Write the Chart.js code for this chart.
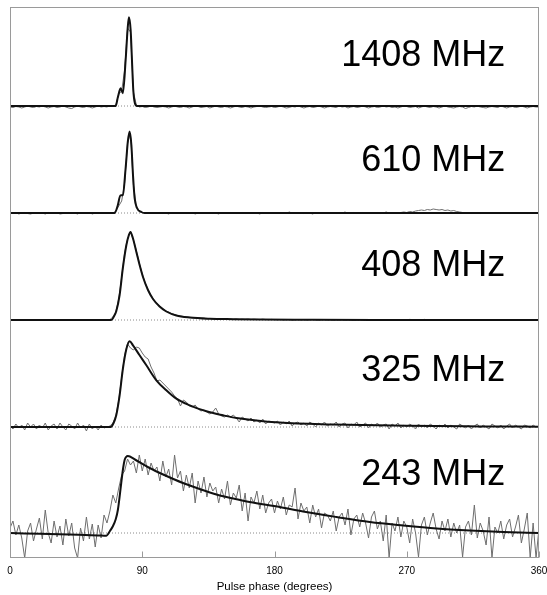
<!DOCTYPE html>
<html>
<head>
<meta charset="utf-8">
<script src="https://cdn.jsdelivr.net/npm/chart.js@4.4.1/dist/chart.umd.min.js"></script>
<style>
  body { margin: 0; background: #fff; overflow: hidden; }
  canvas { display: block; }
</style>
</head>
<body>
<canvas id="profiles" width="547" height="595"></canvas>
<script>
// frequency bands, top to bottom, and where each profile's zero level sits
var bandNames = ["1408 MHz", "610 MHz", "408 MHz", "325 MHz", "243 MHz"];
var baseLevels = [4.52, 3.45, 2.38, 1.31, 0.25];
var xTicks = [0, 90, 180, 270, 360];
var xTitle = "Pulse phase (degrees)";

// phase bins of the measured profiles (degrees)
var phaseBins = [
  0, 2, 4, 6, 8, 10, 12, 14, 16, 18, 20, 22, 24, 26, 28, 30, 32, 34, 36, 38,
  40, 42, 44, 46, 48, 50, 52, 54, 56, 58, 60, 62, 64, 66, 68, 70, 72, 74, 76, 78,
  80, 82, 84, 86, 88, 90, 92, 94, 96, 98, 100, 102, 104, 106, 108, 110, 112, 114, 116, 118,
  120, 122, 124, 126, 128, 130, 132, 134, 136, 138, 140, 142, 144, 146, 148, 150, 152, 154, 156, 158,
  160, 162, 164, 166, 168, 170, 172, 174, 176, 178, 180, 182, 184, 186, 188, 190, 192, 194, 196, 198,
  200, 202, 204, 206, 208, 210, 212, 214, 216, 218, 220, 222, 224, 226, 228, 230, 232, 234, 236, 238,
  240, 242, 244, 246, 248, 250, 252, 254, 256, 258, 260, 262, 264, 266, 268, 270, 272, 274, 276, 278,
  280, 282, 284, 286, 288, 290, 292, 294, 296, 298, 300, 302, 304, 306, 308, 310, 312, 314, 316, 318,
  320, 322, 324, 326, 328, 330, 332, 334, 336, 338, 340, 342, 344, 346, 348, 350, 352, 354, 356, 358,
  360
];

// measured profiles
var obs1408 = [
  -0.010, -0.015, -0.005, -0.010, -0.020, -0.010, 0.000, -0.010, -0.015, -0.005,
  -0.010, 0.000, -0.010, -0.020, -0.010, -0.005, -0.015, -0.010, 0.000, -0.010,
  -0.020, -0.025, -0.010, 0.000, -0.010, -0.015, -0.005, -0.010, -0.020, -0.010,
  0.000, -0.010, -0.005, -0.010, 0.005, 0.000, 0.010, 0.120, 0.150, 0.360,
  0.780, 0.740, 0.140, 0.010, -0.010, -0.005, -0.015, -0.010, 0.000, -0.010,
  -0.015, -0.010, -0.005, -0.010, -0.020, -0.010, 0.000, -0.010, -0.015, -0.005,
  -0.010, -0.020, -0.010, 0.000, -0.005, -0.015, -0.010, -0.005, -0.020, -0.010,
  0.000, -0.010, -0.015, -0.005, -0.010, -0.020, -0.010, 0.000, -0.010, -0.015,
  -0.005, -0.010, -0.020, -0.010, -0.005, 0.000, -0.010, -0.015, -0.010, -0.005,
  -0.015, -0.010, 0.000, -0.010, -0.020, -0.015, -0.005, -0.010, 0.000, -0.010,
  -0.020, -0.010, -0.005, -0.015, -0.010, 0.000, -0.010, -0.020, -0.010, -0.005,
  -0.010, -0.015, 0.000, -0.010, -0.005, -0.020, -0.010, -0.005, -0.015, -0.010,
  0.000, -0.010, -0.020, -0.010, -0.005, -0.015, -0.010, 0.000, -0.010, -0.005,
  -0.015, -0.010, -0.020, -0.010, 0.000, -0.005, -0.015, -0.010, -0.005, -0.020,
  -0.010, 0.000, -0.010, -0.015, -0.005, -0.010, -0.020, -0.010, 0.000, -0.010,
  -0.015, -0.020, -0.010, -0.005, -0.010, -0.025, -0.015, -0.005, -0.010, 0.000,
  -0.010, -0.015, -0.020, -0.010, -0.005, -0.010, -0.015, 0.000, -0.010, -0.020,
  -0.010, -0.005, -0.015, -0.010, 0.000, -0.010, -0.020, -0.010, -0.005, -0.010,
  -0.010
];
var obs610 = [
  0.000, -0.005, 0.005, -0.010, 0.000, 0.005, -0.005, -0.010, 0.000, 0.005,
  -0.005, 0.000, -0.010, 0.005, 0.000, -0.005, 0.005, -0.010, -0.005, 0.000,
  0.005, -0.005, 0.000, -0.010, 0.005, 0.000, -0.005, 0.005, -0.010, 0.000,
  -0.005, 0.005, 0.000, -0.005, 0.000, 0.000, 0.020, 0.070, 0.120, 0.300,
  0.700, 0.800, 0.280, 0.070, 0.020, 0.005, -0.005, 0.000, 0.005, -0.005,
  0.000, 0.005, -0.005, 0.000, -0.010, 0.005, 0.000, -0.005, 0.005, 0.000,
  -0.005, 0.000, 0.005, -0.010, 0.000, 0.005, -0.005, 0.000, 0.005, -0.005,
  0.000, -0.010, 0.005, 0.000, -0.005, 0.005, 0.000, -0.005, 0.000, 0.005,
  -0.005, 0.000, 0.005, -0.005, 0.000, -0.010, 0.005, 0.000, -0.005, 0.005,
  0.000, -0.005, 0.005, 0.000, -0.005, 0.010, 0.000, -0.005, 0.005, 0.000,
  -0.005, 0.005, 0.000, -0.010, 0.005, 0.000, 0.005, -0.005, 0.000, 0.005,
  0.000, -0.005, 0.005, 0.000, 0.010, -0.005, 0.000, 0.005, -0.005, 0.000,
  0.005, 0.000, -0.005, 0.005, 0.000, 0.005, -0.005, 0.000, 0.010, 0.000,
  -0.005, 0.005, 0.000, 0.005, 0.010, 0.005, 0.015, 0.010, 0.020, 0.025,
  0.030, 0.025, 0.035, 0.030, 0.040, 0.035, 0.030, 0.035, 0.025, 0.030,
  0.020, 0.025, 0.015, 0.010, 0.005, 0.000, 0.005, -0.005, 0.000, 0.005,
  -0.005, 0.000, 0.005, -0.005, 0.000, 0.005, 0.000, -0.005, 0.005, 0.000,
  -0.005, 0.005, 0.000, -0.005, 0.000, 0.005, -0.005, 0.000, 0.005, 0.000,
  0.000
];
var obs408 = [
  0.000, 0.004, -0.003, 0.002, 0.000, -0.004, 0.003, 0.000, -0.002, 0.004,
  0.000, -0.003, 0.002, 0.004, -0.002, 0.000, 0.003, -0.004, 0.002, 0.000,
  -0.003, 0.002, 0.000, 0.004, -0.002, 0.003, 0.000, -0.003, 0.002, 0.000,
  0.003, -0.002, 0.000, 0.002, 0.005, 0.030, 0.080, 0.210, 0.430, 0.670,
  0.810, 0.890, 0.800, 0.690, 0.570, 0.460, 0.370, 0.300, 0.245, 0.200,
  0.165, 0.140, 0.115, 0.090, 0.080, 0.065, 0.055, 0.045, 0.040, 0.035,
  0.030, 0.028, 0.022, 0.020, 0.020, 0.015, 0.018, 0.012, 0.015, 0.010,
  0.012, 0.008, 0.012, 0.010, 0.006, 0.010, 0.008, 0.012, 0.006, 0.009,
  0.007, 0.010, 0.005, 0.008, 0.006, 0.004, 0.008, 0.005, 0.003, 0.006,
  0.004, 0.002, 0.005, 0.000, 0.003, 0.004, -0.002, 0.002, 0.004, 0.000,
  0.003, -0.002, 0.002, 0.004, 0.000, -0.003, 0.002, 0.004, 0.000, 0.002,
  -0.003, 0.002, 0.000, 0.004, -0.002, 0.003, 0.000, -0.003, 0.002, 0.005,
  0.000, -0.002, 0.003, 0.000, 0.004, -0.003, 0.002, 0.000, 0.004, 0.002,
  -0.002, 0.003, 0.000, 0.002, 0.005, 0.003, 0.006, 0.004, 0.002, 0.005,
  0.003, 0.006, 0.002, 0.004, 0.000, 0.003, -0.002, 0.002, 0.004, 0.000,
  0.003, -0.003, 0.002, 0.000, 0.004, -0.002, 0.002, 0.003, 0.000, -0.002,
  0.002, 0.004, 0.000, -0.003, 0.002, 0.000, 0.003, -0.002, 0.002, 0.004,
  0.000, -0.003, 0.002, 0.004, 0.000, 0.002, -0.002, 0.003, 0.000, 0.002,
  0.000
];
var obs325 = [
  0.01, -0.02, 0.03, -0.01, 0.02, -0.03, 0.04, 0.00, 0.03, -0.02,
  0.02, -0.01, 0.04, -0.03, 0.01, 0.03, -0.02, 0.04, 0.00, -0.03,
  0.03, 0.01, -0.02, 0.04, -0.01, 0.02, -0.04, 0.03, -0.02, 0.01,
  -0.03, 0.02, -0.01, 0.00, 0.01, 0.04, 0.11, 0.27, 0.50, 0.72,
  0.83, 0.79, 0.77, 0.80, 0.79, 0.74, 0.70, 0.68, 0.60, 0.54,
  0.46, 0.47, 0.44, 0.41, 0.38, 0.35, 0.31, 0.28, 0.21, 0.27,
  0.25, 0.21, 0.20, 0.22, 0.18, 0.16, 0.17, 0.15, 0.13, 0.15,
  0.19, 0.13, 0.11, 0.10, 0.12, 0.10, 0.12, 0.09, 0.05, 0.10,
  0.08, 0.06, 0.09, 0.05, 0.07, 0.04, 0.08, 0.03, 0.06, 0.05,
  0.04, 0.06, 0.02, 0.05, 0.03, 0.06, 0.01, 0.04, 0.05, 0.02,
  0.04, 0.01, 0.05, 0.03, 0.00, 0.04, 0.02, 0.05, 0.01, 0.03,
  0.02, 0.05, 0.00, 0.03, 0.04, -0.01, 0.03, 0.02, 0.05, 0.00,
  0.02, 0.04, -0.01, 0.03, 0.01, 0.04, 0.00, 0.02, 0.03, -0.02,
  0.03, 0.01, 0.04, -0.01, 0.02, 0.00, 0.03, 0.01, -0.02, 0.03,
  0.00, 0.02, -0.01, 0.03, 0.01, -0.02, 0.02, 0.00, 0.03, -0.01,
  0.02, 0.00, -0.02, 0.03, 0.01, -0.01, 0.02, -0.02, 0.01, 0.03,
  -0.01, 0.02, 0.00, -0.02, 0.03, 0.01, -0.01, 0.02, -0.02, 0.01,
  0.03, -0.01, 0.02, 0.00, -0.02, 0.02, 0.01, -0.01, 0.02, 0.00,
  0.01
];
var obs243 = [
  0.05, 0.12, -0.02, 0.08, -0.05, -0.25, 0.02, 0.10, -0.08, 0.04,
  0.15, -0.06, 0.23, 0.00, -0.10, 0.12, -0.04, 0.07, -0.12, 0.14,
  -0.03, 0.10, -0.15, -0.25, 0.05, -0.08, 0.16, -0.06, 0.09, -0.14,
  0.08, -0.05, 0.18, 0.10, 0.22, 0.38, 0.30, 0.45, 0.58, 0.62,
  0.74, 0.68, 0.72, 0.60, 0.78, 0.62, 0.74, 0.58, 0.70, 0.62,
  0.66, 0.52, 0.72, 0.56, 0.64, 0.48, 0.78, 0.55, 0.62, 0.42,
  0.58, 0.45, 0.60, 0.30, 0.52, 0.40, 0.56, 0.36, 0.50, 0.42,
  0.46, 0.30, 0.44, 0.34, 0.52, 0.28, 0.40, 0.35, 0.48, 0.22,
  0.40, 0.12, 0.36, 0.30, 0.42, 0.24, 0.38, 0.20, 0.30, 0.34,
  0.20, 0.32, 0.24, 0.36, 0.18, 0.28, 0.26, 0.45, 0.14, 0.30,
  0.22, 0.26, 0.10, 0.28, 0.16, 0.24, 0.05, 0.20, 0.18, 0.12,
  0.22, 0.02, 0.16, 0.20, 0.08, 0.24, -0.02, 0.14, 0.18, 0.06,
  0.20, 0.10, -0.05, 0.16, 0.22, 0.04, 0.12, -0.08, 0.18, -0.25,
  0.10, 0.02, 0.16, -0.04, 0.12, 0.06, -0.10, 0.14, 0.00, -0.24,
  0.08, 0.16, -0.02, 0.10, 0.20, 0.04, -0.06, 0.12, 0.02, 0.14,
  -0.04, 0.10, 0.00, 0.08, -0.24, 0.06, 0.12, -0.02, 0.28, -0.05,
  0.10, 0.02, -0.12, 0.16, -0.25, 0.06, 0.00, 0.12, -0.06, 0.08,
  0.14, -0.04, 0.06, 0.18, -0.10, 0.04, 0.20, -0.25, 0.10, -0.25,
  0.05
];

// fitted (scattered) profiles
var fitPhase1408 = [0, 60, 71.9, 73.4, 75.3, 76.8, 78.7, 80.0, 80.9, 82.1, 83.0, 83.9, 85.0, 86.4, 100, 360];
var fit1408 = [0, 0, 0, 0.087, 0.177, 0.127, 0.46, 0.76, 0.887, 0.76, 0.46, 0.16, 0.027, 0, 0, 0];

var fitPhase610 = [0, 60, 71.2, 73.4, 75.1, 76.8, 78.7, 80.2, 81.4, 82.6, 83.7, 84.8, 86.4, 89.4, 91.6, 120, 360];
var fit610 = [0, 0, 0, 0.08, 0.176, 0.18, 0.45, 0.716, 0.816, 0.68, 0.38, 0.15, 0.05, 0.01, 0, 0, 0];

var fitPhase408 = [0, 60, 68.9, 70.5, 72.3, 74.6, 76.8, 79.2, 80.9, 81.9, 83.6, 86.0, 88.2, 90.5, 93.9, 97.3, 101.8, 106.4, 113.2, 122.3, 135.9, 151.6, 170, 200, 250, 360];
var fit408 = [0, 0, 0, 0.03, 0.087, 0.25, 0.52, 0.75, 0.85, 0.88, 0.82, 0.68, 0.55, 0.43, 0.30, 0.21, 0.135, 0.085, 0.045, 0.025, 0.013, 0.008, 0.004, 0.002, 0, 0];

var fitPhase325 = [0, 30, 60, 68.5, 70.5, 72.3, 74.6, 76.8, 79.2, 81.4, 83.7, 88.2, 92.8, 99.6, 106.4, 113.2, 122.3, 133.7, 145, 154.1, 183.6, 220, 270, 320, 360];
var fit325 = [0, 0, 0, 0, 0.04, 0.117, 0.317, 0.58, 0.78, 0.857, 0.817, 0.717, 0.617, 0.467, 0.367, 0.283, 0.217, 0.157, 0.117, 0.09, 0.044, 0.025, 0.012, 0.006, 0.003];

var fitPhase243 = [0, 20, 40, 60, 65.5, 68, 70, 72, 73.4, 75.7, 77, 78, 79, 80.2, 85, 95, 105, 117.7, 130, 140.5, 152, 163.1, 183.6, 199.4, 222.2, 244.9, 267.6, 290.3, 313, 335.7, 360];
var fit243 = [0, -0.008, -0.016, -0.024, -0.027, 0.02, 0.067, 0.14, 0.23, 0.50, 0.65, 0.73, 0.76, 0.77, 0.735, 0.65, 0.58, 0.50, 0.435, 0.385, 0.345, 0.31, 0.26, 0.215, 0.16, 0.11, 0.075, 0.045, 0.025, 0.01, 0];

var observed = [obs1408, obs610, obs408, obs325, obs243];
var fitX = [fitPhase1408, fitPhase610, fitPhase408, fitPhase325, fitPhase243];
var fitY = [fit1408, fit610, fit408, fit325, fit243];

function toPoints(xs, ys, base) {
  var pts = [];
  for (var i = 0; i < xs.length; i++) {
    pts.push({x: xs[i], y: ys[i] + base});
  }
  return pts;
}

var datasets = [];
for (var p = 0; p < bandNames.length; p++) {
  var base = baseLevels[p];
  datasets.push({
    label: bandNames[p] + " fit",
    data: toPoints(fitX[p], fitY[p], base),
    borderColor: '#111111',
    borderWidth: 2,
    pointRadius: 0,
    cubicInterpolationMode: 'monotone',
    order: 0
  });
  datasets.push({
    label: bandNames[p],
    data: toPoints(phaseBins, observed[p], base),
    borderColor: '#6e6e6e',
    borderWidth: 1,
    pointRadius: 0,
    tension: 0,
    order: 1
  });
  datasets.push({
    label: bandNames[p] + " zero",
    data: [{x: 0, y: base}, {x: 360, y: base}],
    borderColor: '#8a8a8a',
    borderWidth: 1,
    borderDash: [1, 2],
    pointRadius: 0,
    order: 2
  });
}

// box around the plot, inward ticks + labels on the phase axis, band names
var framePlugin = {
  id: 'frame',
  afterDraw: function(chart) {
    var ctx = chart.ctx;
    var a = chart.chartArea;
    var xs = chart.scales.x;
    var ys = chart.scales.y;
    ctx.save();
    ctx.strokeStyle = '#9a9a9a';
    ctx.lineWidth = 1;
    var l = Math.round(a.left) + 0.5, r = Math.round(a.right) - 0.5;
    var t = Math.round(a.top) + 0.5, b = Math.round(a.bottom) - 0.5;
    ctx.strokeRect(l, t, r - l, b - t);
    ctx.beginPath();
    for (var i = 0; i < xTicks.length; i++) {
      var px = Math.round(xs.getPixelForValue(xTicks[i])) + 0.5;
      ctx.moveTo(px, b);
      ctx.lineTo(px, b - 6);
    }
    ctx.stroke();

    ctx.fillStyle = '#000';
    ctx.textAlign = 'center';
    ctx.textBaseline = 'middle';
    ctx.font = "10px 'Liberation Sans', Arial, sans-serif";
    for (var j = 0; j < xTicks.length; j++) {
      ctx.fillText(String(xTicks[j]), xs.getPixelForValue(xTicks[j]), a.bottom + 13);
    }
    ctx.font = "11.5px 'Liberation Sans', Arial, sans-serif";
    ctx.fillText(xTitle, (a.left + a.right) / 2, a.bottom + 29);

    // band names sit a little higher above the zero level in the lower panels
    ctx.font = "36px 'Liberation Sans', Arial, sans-serif";
    ctx.textAlign = 'right';
    ctx.textBaseline = 'alphabetic';
    for (var k = 0; k < bandNames.length; k++) {
      var lift = 0.40 + 0.02 * k;
      ctx.fillText(bandNames[k], xs.getPixelForValue(337), ys.getPixelForValue(baseLevels[k] + lift));
    }
    ctx.restore();
  }
};

var ctx = document.getElementById('profiles').getContext('2d');
var chart = new Chart(ctx, {
  type: 'line',
  data: { datasets: datasets },
  options: {
    responsive: false,
    animation: false,
    layout: {
      padding: { left: 10, right: 8, top: 7, bottom: 37 }
    },
    plugins: {
      legend: { display: false },
      tooltip: { enabled: false }
    },
    scales: {
      x: {
        type: 'linear',
        min: 0,
        max: 360,
        display: false
      },
      y: {
        type: 'linear',
        min: 0,
        max: 5.51,
        display: false
      }
    }
  },
  plugins: [framePlugin]
});
</script>
</body>
</html>
